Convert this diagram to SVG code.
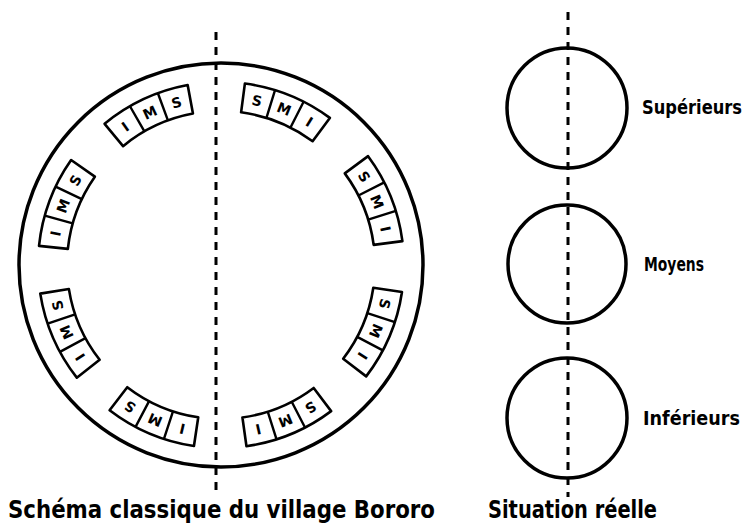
<svg xmlns="http://www.w3.org/2000/svg" width="753" height="527" viewBox="0 0 753 527">
<style>
.ring{fill:none;stroke:#000;stroke-width:3.5}
.cell{fill:#fff;stroke:#000;stroke-width:2.6;stroke-linejoin:round}
.div{fill:none;stroke:#000;stroke-width:2.4}
.lt{font-family:"DejaVu Sans","Liberation Sans",sans-serif;font-weight:bold;font-size:14px;text-anchor:middle;fill:#000}
.dash{fill:none;stroke:#000;stroke-width:3;stroke-dasharray:8 7}
.lbl{font-family:"DejaVu Sans Condensed","Liberation Sans",sans-serif;font-weight:bold;fill:#000}
</style>
<rect width="753" height="527" fill="#fff"/>
<g id="village-circle"><circle class="ring" cx="221" cy="265" r="202"/></g>
<g id="box-tl" transform="translate(221 265) rotate(-25)">
<path class="cell" d="M-45.82,-177.16 A183,183 0 0 1 45.82,-177.16 L38.56,-149.09 A154,154 0 0 0 -38.56,-149.09 Z"/>
<path class="div" d="M-15.41,-182.35 L-12.97,-153.45 M15.41,-182.35 L12.97,-153.45"/>
<text class="lt" transform="rotate(-9.67)" y="-163.3">I</text><text class="lt" y="-163.3">M</text><text class="lt" transform="rotate(9.67)" y="-163.3">S</text>
</g>
<g id="box-tr" transform="translate(221 265) rotate(22)">
<path class="cell" d="M-45.82,-177.16 A183,183 0 0 1 45.82,-177.16 L38.56,-149.09 A154,154 0 0 0 -38.56,-149.09 Z"/>
<path class="div" d="M-15.41,-182.35 L-12.97,-153.45 M15.41,-182.35 L12.97,-153.45"/>
<text class="lt" transform="rotate(-9.67)" y="-163.3">S</text><text class="lt" y="-163.3">M</text><text class="lt" transform="rotate(9.67)" y="-163.3">I</text>
</g>
<g id="box-lu" transform="translate(221 265) rotate(-69.5)">
<path class="cell" d="M-45.82,-177.16 A183,183 0 0 1 45.82,-177.16 L38.56,-149.09 A154,154 0 0 0 -38.56,-149.09 Z"/>
<path class="div" d="M-15.41,-182.35 L-12.97,-153.45 M15.41,-182.35 L12.97,-153.45"/>
<text class="lt" transform="rotate(-9.67)" y="-163.3">I</text><text class="lt" y="-163.3">M</text><text class="lt" transform="rotate(9.67)" y="-163.3">S</text>
</g>
<g id="box-ru" transform="translate(221 265) rotate(68)">
<path class="cell" d="M-45.82,-177.16 A183,183 0 0 1 45.82,-177.16 L38.56,-149.09 A154,154 0 0 0 -38.56,-149.09 Z"/>
<path class="div" d="M-15.41,-182.35 L-12.97,-153.45 M15.41,-182.35 L12.97,-153.45"/>
<text class="lt" transform="rotate(-9.67)" y="-163.3">S</text><text class="lt" y="-163.3">M</text><text class="lt" transform="rotate(9.67)" y="-163.3">I</text>
</g>
<g id="box-ll" transform="translate(221 265) rotate(-113.5)">
<path class="cell" d="M-45.82,-177.16 A183,183 0 0 1 45.82,-177.16 L38.56,-149.09 A154,154 0 0 0 -38.56,-149.09 Z"/>
<path class="div" d="M-15.41,-182.35 L-12.97,-153.45 M15.41,-182.35 L12.97,-153.45"/>
<text class="lt" transform="rotate(-9.67)" y="-163.3">I</text><text class="lt" y="-163.3">M</text><text class="lt" transform="rotate(9.67)" y="-163.3">S</text>
</g>
<g id="box-rl" transform="translate(221 265) rotate(113)">
<path class="cell" d="M-45.82,-177.16 A183,183 0 0 1 45.82,-177.16 L38.56,-149.09 A154,154 0 0 0 -38.56,-149.09 Z"/>
<path class="div" d="M-15.41,-182.35 L-12.97,-153.45 M15.41,-182.35 L12.97,-153.45"/>
<text class="lt" transform="rotate(-9.67)" y="-163.3">S</text><text class="lt" y="-163.3">M</text><text class="lt" transform="rotate(9.67)" y="-163.3">I</text>
</g>
<g id="box-bl" transform="translate(221 265) rotate(203)">
<path class="cell" d="M-45.82,-177.16 A183,183 0 0 1 45.82,-177.16 L38.56,-149.09 A154,154 0 0 0 -38.56,-149.09 Z"/>
<path class="div" d="M-15.41,-182.35 L-12.97,-153.45 M15.41,-182.35 L12.97,-153.45"/>
<text class="lt" transform="rotate(-9.67)" y="-163.3">I</text><text class="lt" y="-163.3">M</text><text class="lt" transform="rotate(9.67)" y="-163.3">S</text>
</g>
<g id="box-br" transform="translate(221 265) rotate(157.5)">
<path class="cell" d="M-45.82,-177.16 A183,183 0 0 1 45.82,-177.16 L38.56,-149.09 A154,154 0 0 0 -38.56,-149.09 Z"/>
<path class="div" d="M-15.41,-182.35 L-12.97,-153.45 M15.41,-182.35 L12.97,-153.45"/>
<text class="lt" transform="rotate(-9.67)" y="-163.3">S</text><text class="lt" y="-163.3">M</text><text class="lt" transform="rotate(9.67)" y="-163.3">I</text>
</g>
<g id="circle-sup"><circle class="ring" cx="567" cy="108" r="60"/><text class="lbl" x="642" y="114" font-size="20" textLength="100" lengthAdjust="spacingAndGlyphs">Supérieurs</text></g>
<g id="circle-moy"><circle class="ring" cx="567" cy="264" r="59"/><text class="lbl" x="644" y="271" font-size="20" textLength="60" lengthAdjust="spacingAndGlyphs">Moyens</text></g>
<g id="circle-inf"><circle class="ring" cx="567" cy="418" r="60"/><text class="lbl" x="643" y="425" font-size="20" textLength="97" lengthAdjust="spacingAndGlyphs">Inférieurs</text></g>
<g id="axes">
<line class="dash" x1="216" y1="32" x2="216" y2="496"/>
<line class="dash" x1="568" y1="12" x2="568" y2="497"/>
</g>
<g id="captions">
<text class="lbl" x="8" y="518" font-size="25" textLength="427" lengthAdjust="spacingAndGlyphs">Schéma classique du village Bororo</text>
<text class="lbl" x="488" y="518" font-size="25" textLength="169" lengthAdjust="spacingAndGlyphs">Situation réelle</text>
</g>
</svg>
